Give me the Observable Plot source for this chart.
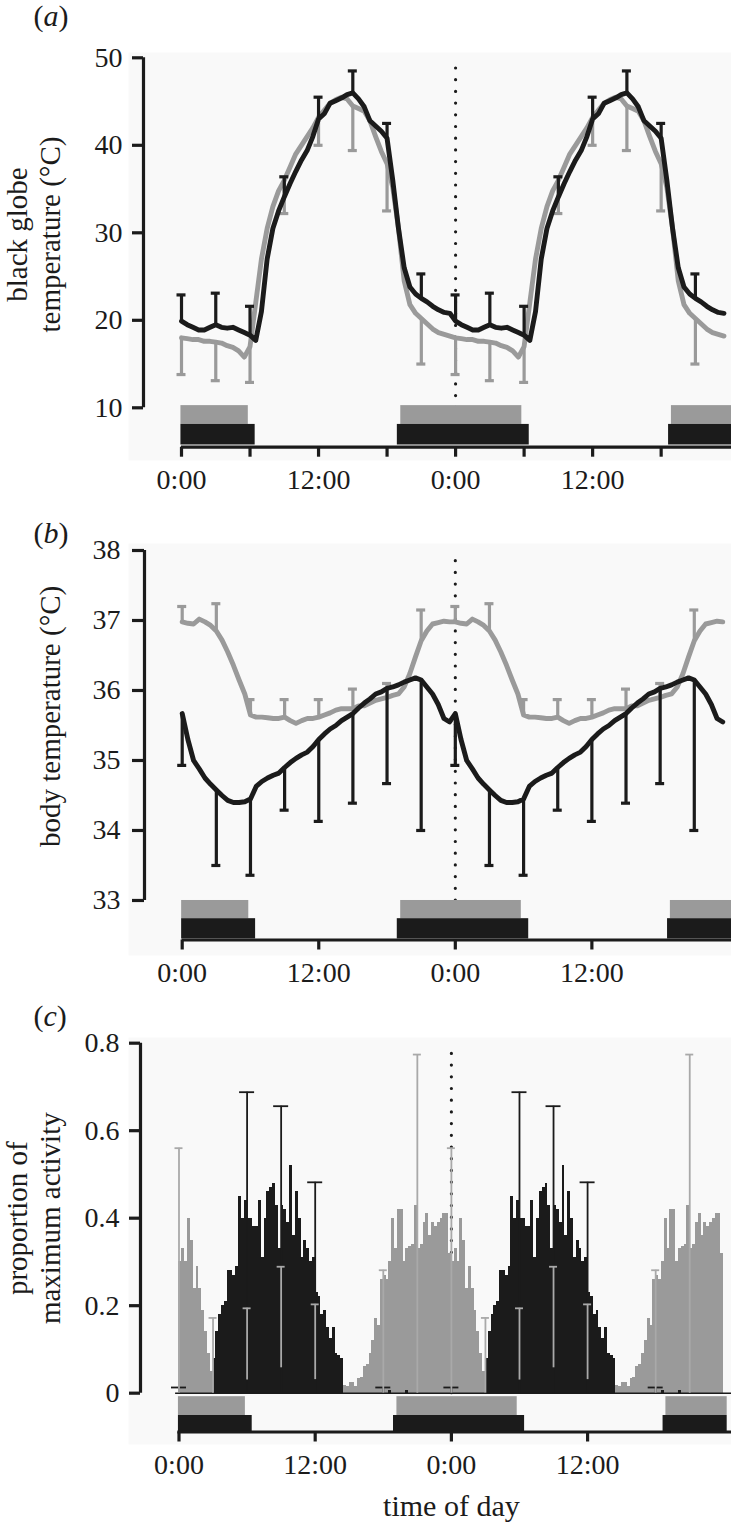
<!DOCTYPE html>
<html><head><meta charset="utf-8">
<script src="https://cdn.jsdelivr.net/npm/d3@7"></script>
<script src="https://cdn.jsdelivr.net/npm/@observablehq/plot@0.6"></script>
<style>
body{margin:0;background:#fff;}
#chart{width:731px;}
#chart svg{display:block;}
</style></head><body><div id="chart"></div>
<script>
// ---------------- DATA ----------------
const days = [0, 24];                       // double-plotted 48 h
const halfHours = d3.range(0, 24, 0.5);     // line sample times (h)
const bins = d3.range(0, 24, 0.25);         // 15-min activity bins (h)
const errHours = [0, 3, 6, 9, 12, 15, 18, 21];

// (a) black globe temperature (°C)
const globeBlack = [19.9,19.5,19.2,18.9,18.9,19.2,19.5,19.2,19.1,19.2,18.9,18.6,18.3,17.7,21.0,27.0,30.5,32.5,34.1,35.6,37.0,38.3,39.4,41.0,43.0,43.6,44.8,45.1,45.4,45.8,46.0,45.3,44.4,42.8,42.2,41.6,40.8,36.0,30.5,26.0,23.8,23.0,22.5,22.1,21.6,21.2,20.9,20.8];
const globeGrey  = [18.0,17.9,17.8,17.8,17.6,17.6,17.5,17.4,17.1,16.9,16.5,15.8,17.0,22.0,27.0,30.5,33.0,34.8,36.0,37.5,39.0,40.0,41.0,42.0,43.2,44.0,44.8,45.2,45.5,45.3,44.5,44.2,43.9,42.8,41.0,39.3,37.9,35.2,30.5,24.5,21.8,20.8,20.2,19.6,19.0,18.6,18.4,18.2];
const globeBlackErrTop   = [22.9,23.1,21.6,36.4,45.5,48.5,42.5,25.3];
const globeGreyErrBottom = [13.8,13.1,12.9,32.2,40.0,39.4,32.5,15.0];

// (b) body temperature (°C)
const bodyBlack = [35.67,35.3,35.0,34.88,34.75,34.66,34.58,34.5,34.43,34.4,34.4,34.41,34.45,34.63,34.7,34.75,34.79,34.82,34.9,34.97,35.03,35.08,35.12,35.2,35.3,35.38,35.45,35.5,35.57,35.62,35.67,35.75,35.82,35.88,35.95,35.98,36.03,36.05,36.08,36.12,36.15,36.18,36.15,36.05,35.95,35.8,35.6,35.55];
const bodyGrey  = [36.98,36.96,36.95,37.02,36.98,36.93,36.85,36.72,36.55,36.36,36.15,35.95,35.65,35.62,35.62,35.61,35.6,35.6,35.62,35.57,35.53,35.57,35.6,35.6,35.62,35.65,35.68,35.72,35.74,35.74,35.74,35.78,35.78,35.82,35.86,35.88,35.9,35.93,35.95,36.05,36.24,36.48,36.71,36.85,36.95,36.97,36.99,36.98];
const bodyBlackErrBottom = [34.93,33.5,33.36,34.29,34.13,34.39,34.67,34.0];
const bodyGreyErrTop     = [37.2,37.24,35.87,35.87,35.87,36.02,36.1,37.15];

// (c) proportion of maximum activity, 15-min bins
const actGrey = [0.30,0.33,0.30,0.40,0.35,0.24,0.29,0.24,0.19,0.14,0.09,0.05,
  0,0,0,0,0,0,0,0,0,0,0,0,0,0,0,0,0,0,0,0,0,0,0,0,0,0,0,0,0,0,0,0,0,0,0,0,0,0,0,0,0,0,0,0,0,0,
  0.018,0.015,0.024,0.024,0.015,0.034,
  0.035,0.06,0.065,0.09,0.12,0.17,0.155,0.26,0.27,0.26,0.30,0.40,0.33,0.42,0.42,0.30,0.33,0.335,0.34,0.43,0.33,0.34,0.39,0.41,0.36,0.39,0.38,0.39,0.40,0.41,0.41,0.32];
const actBlack = [0,0,0,0,0,0,0,0,0,0,0,0,
  0.08,0.14,0.18,0.20,0.21,0.28,0.28,0.27,0.29,0.45,0.40,0.44,0.40,0.40,0.38,0.38,0.44,0.31,0.40,0.46,0.47,0.48,0.43,0.33,0.43,0.42,0.39,0.52,0.36,0.46,0.40,0.31,0.35,0.33,0.30,0.31,0.23,0.22,0.18,0.19,0.15,0.125,0.15,0.09,0.087,0.08,
  0,0,0,0,0,0,0,0,0,0,0,0,0,0,0,0,0.005,0,0,0,0,0,0.005,0,0,0,0,0,0,0,0,0,0,0,0,0,0,0];
const actBlackErrHours = [0, 6, 9, 12, 18];
const actBlackErrTop   = [0.013, 0.688, 0.656, 0.482, 0.013];
const actGreyErrHours  = [0, 3, 6, 9, 12, 18, 21];
const actGreyErrLow    = [0, 0, 0.03, 0.058, 0.031, 0, 0];
const actGreyErrTop    = [0.56, 0.172, 0.194, 0.289, 0.203, 0.281, 0.774];

// light/dark (night) periods, hours on the 48-h axis
const greyNights  = [[-0.05, 5.85], [19.2, 29.8], [42.9, 48.3]];
const blackNights = [[-0.05, 6.45], [18.9, 30.45], [42.65, 48.3]];

// tick labels
const clockLabels = {0: "0:00", 12: "12:00", 24: "0:00", 36: "12:00"};

// ---------------- HELPERS ----------------
const BLACK = "#1b1b1b", GREY = "#9a9a9a", ERRGREY = "#a9a9a9", BG = "#f9f9f9";
const FONT = "'Liberation Serif','Times New Roman',Times,serif";
const W = 731;
const LINE_W = 4.9;

function doubled(values, times) {
  const out = [];
  for (const d of days) values.forEach((v, i) => out.push({h: d + times[i], v}));
  return out;
}
function errData(hours, series, caps, low) {
  const out = [];
  for (const d of days) hours.forEach((h, k) => out.push({
    h: d + h,
    from: low ? low[k] : series[halfHours.indexOf(h)],
    to: caps[k]
  }));
  return out;
}
function binData(values) {
  const out = [];
  for (const d of days) values.forEach((v, i) => out.push({x1: d + bins[i], x2: d + bins[i] + 0.25, v}));
  return out;
}
function errBars(data, color, width, capHalf) {
  return [
    Plot.ruleX(data, {x: "h", y1: "from", y2: "to", stroke: color, strokeWidth: width}),
    Plot.ruleY(data, {x1: "h", x2: "h", y: "to", stroke: color, strokeWidth: width, insetLeft: -capHalf, insetRight: -capHalf})
  ];
}
function frameParts(cfg) {
  const yt = cfg.yTicks;
  return [
    Plot.frame({fill: BG, stroke: "none"}),
    Plot.ruleX([24], {y1: yt[0], y2: yt[yt.length - 1], stroke: BLACK, strokeWidth: 3.2, strokeDasharray: "0,11.7", strokeLinecap: "round"})
  ];
}
function axisParts(cfg) {
  const [x0, x1] = cfg.xDomain;
  const yt = cfg.yTicks;
  return [
    Plot.rect(greyNights, {x1: d => d[0], x2: d => d[1], y1: cfg.greyBand[0], y2: cfg.greyBand[1], fill: GREY}),
    Plot.rect(blackNights, {x1: d => d[0], x2: d => d[1], y1: cfg.blackBand[0], y2: cfg.blackBand[1], fill: BLACK}),
    Plot.ruleY([cfg.yDomain[0]], {x1: cfg.xAxisStart, x2: x1, dy: cfg.xAxisDy, stroke: BLACK, strokeWidth: 3.2}),
    Plot.axisX({ticks: cfg.xTicks, tickFormat: h => clockLabels[h] ?? "", tickSize: 10, tickPadding: 12,
      dy: cfg.xAxisDy, stroke: BLACK, fill: BLACK, strokeWidth: 3.2, label: null, fontSize: 28}),
    Plot.ruleX([x0], {y1: yt[0], y2: yt[yt.length - 1], dx: cfg.yAxisDx, stroke: BLACK, strokeWidth: 3.2}),
    Plot.axisY({ticks: yt, tickFormat: cfg.yFormat, tickSize: cfg.yTickSize, tickPadding: cfg.yTickPadding,
      dx: cfg.yAxisDx, stroke: BLACK, fill: BLACK, strokeWidth: 3.2, label: null, fontSize: 28}),
    Plot.text([cfg.title], {frameAnchor: "left", y: cfg.titleY, dx: cfg.titleDx, rotate: -90,
      textAnchor: "middle", lineAnchor: "middle", lineHeight: 1.14, fontSize: 29, fill: BLACK}),
    Plot.text([cfg.label], {frameAnchor: "top-left", dx: -95, dy: cfg.labelDy, textAnchor: "start",
      lineAnchor: "bottom", fontSize: 30, fill: BLACK})
  ];
}
function makePlot(cfg, dataMarks) {
  const svg = Plot.plot({
    width: W, height: cfg.height, marginTop: cfg.marginTop, marginBottom: cfg.marginBottom,
    marginLeft: 128, marginRight: 0,
    style: {fontFamily: FONT, fontSize: "28px", color: BLACK, background: "white", overflow: "visible"},
    x: {domain: cfg.xDomain},
    y: {domain: cfg.yDomain},
    marks: [...frameParts(cfg), ...dataMarks.before, ...axisParts(cfg), ...dataMarks.after]
  });
  // italic panel letter
  d3.select(svg).selectAll("text").each(function () {
    const t = this.textContent;
    if (t === cfg.label) {
      const s = d3.select(this);
      s.text(null);
      s.append("tspan").text("(");
      s.append("tspan").attr("font-style", "italic").text(t.slice(1, -1));
      s.append("tspan").text(")");
    }
  });
  document.getElementById("chart").appendChild(svg);
}

// ---------------- PANEL A ----------------
{
  const cfg = {
    height: 500, marginTop: 52, marginBottom: 40,
    xDomain: [-4.641, 48.16], yDomain: [3.977, 50.606],
    yTicks: [10, 20, 30, 40, 50], yFormat: d => String(d), yTickSize: 11, yTickPadding: 10, yAxisDx: 15,
    xTicks: [0, 6, 12, 18, 24, 30, 36, 42], xAxisDy: -13.3, xAxisStart: 0,
    greyBand: [8.1, 10.25], blackBand: [5.75, 8.1],
    title: "black globe\ntemperature (°C)", titleY: 29.8, titleDx: -95.4,
    label: "(a)", labelDy: -27
  };
  const grey = doubled(globeGrey, halfHours), black = doubled(globeBlack, halfHours);
  makePlot(cfg, {before: [], after: [
    Plot.line(grey, {x: "h", y: "v", stroke: GREY, strokeWidth: LINE_W, strokeLinejoin: "round"}),
    ...errBars(errData(errHours, globeGrey, globeGreyErrBottom), GREY, 3.2, 4.5),
    Plot.line(black, {x: "h", y: "v", stroke: BLACK, strokeWidth: LINE_W, strokeLinejoin: "round"}),
    ...errBars(errData(errHours, globeBlack, globeBlackErrTop), BLACK, 3.2, 4.5)
  ]});
}

// ---------------- PANEL B ----------------
{
  const cfg = {
    height: 490, marginTop: 43, marginBottom: 35,
    xDomain: [-4.719, 48.27], yDomain: [32.214, 38.1],
    yTicks: [33, 34, 35, 36, 37, 38], yFormat: d => String(d), yTickSize: 12, yTickPadding: 12, yAxisDx: 16,
    xTicks: [0, 12, 24, 36], xAxisDy: -15.5, xAxisStart: 0,
    greyBand: [32.74, 33.0], blackBand: [32.45, 32.74],
    title: "body temperature (°C)", titleY: 35.63, titleDx: -78.6,
    label: "(b)", labelDy: -1
  };
  const grey = doubled(bodyGrey, halfHours), black = doubled(bodyBlack, halfHours);
  makePlot(cfg, {before: [], after: [
    Plot.line(grey, {x: "h", y: "v", stroke: GREY, strokeWidth: LINE_W, strokeLinejoin: "round"}),
    ...errBars(errData(errHours, bodyGrey, bodyGreyErrTop), GREY, 3.2, 4.5),
    Plot.line(black, {x: "h", y: "v", stroke: BLACK, strokeWidth: LINE_W, strokeLinejoin: "round"}),
    ...errBars(errData(errHours, bodyBlack, bodyBlackErrBottom), BLACK, 3.2, 4.5)
  ]});
}

// ---------------- PANEL C ----------------
{
  const cfg = {
    height: 532, marginTop: 47, marginBottom: 78,
    xDomain: [-4.449, 48.68], yDomain: [-0.1173, 0.813],
    yTicks: [0, 0.2, 0.4, 0.6, 0.8], yFormat: d => d === 0 ? "0" : d.toFixed(1), yTickSize: 11, yTickPadding: 10, yAxisDx: 12,
    xTicks: [0, 12, 24, 36], xAxisDy: -12.5, xAxisStart: -0.1,
    greyBand: [-0.051, -0.008], blackBand: [-0.088, -0.051],
    title: "proportion of\nmaximum activity", titleY: 0.4, titleDx: -95.4,
    label: "(c)", labelDy: -12
  };
  const greyBins = binData(actGrey), blackBins = binData(actBlack);
  const gErr = [], bErr = [];
  for (const d of days) {
    actGreyErrHours.forEach((h, k) => gErr.push({h: d + h, from: actGreyErrLow[k], to: actGreyErrTop[k]}));
    actBlackErrHours.forEach((h, k) => bErr.push({h: d + h, from: 0, to: actBlackErrTop[k]}));
  }
  makePlot(cfg, {before: [
    Plot.rect(greyBins, {x1: "x1", x2: "x2", y1: 0, y2: "v", fill: GREY, shapeRendering: "crispEdges"}),
    Plot.rect(blackBins, {x1: "x1", x2: "x2", y1: 0, y2: "v", fill: BLACK, shapeRendering: "crispEdges"}),
    Plot.ruleY([0], {x1: -0.3, x2: 48.68, stroke: BLACK, strokeWidth: 1.6})
  ], after: [
    ...errBars(bErr, BLACK, 1.8, 7.5),
    ...errBars(gErr, ERRGREY, 1.8, 4),
    Plot.text(["time of day"], {x: 24, frameAnchor: "bottom", dy: 71, lineAnchor: "bottom", fontSize: 30, fill: BLACK})
  ]});
}
</script></body></html>
